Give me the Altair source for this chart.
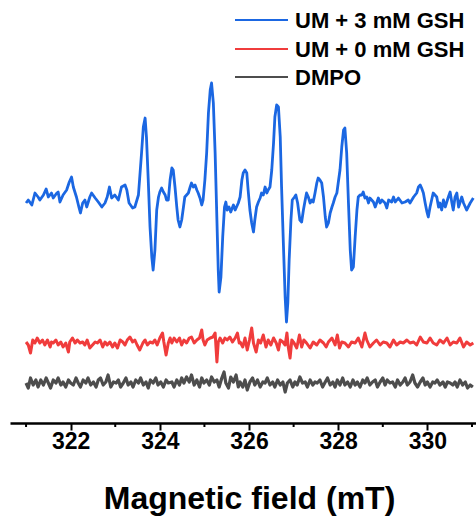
import altair as alt
import pandas as pd

# ---- EPR spectra (field in mT, signal in arbitrary units) ----
blue_field = [
    321.00, 321.05, 321.13, 321.20, 321.27, 321.31, 321.39, 321.45, 321.50, 321.57,
    321.61, 321.69, 321.72, 321.76, 321.83, 321.91, 321.97, 322.02, 322.06, 322.13,
    322.19, 322.22, 322.27, 322.32, 322.36, 322.43, 322.47, 322.55, 322.62, 322.70,
    322.77, 322.82, 322.87, 322.92, 322.99, 323.07, 323.14, 323.22, 323.26, 323.31,
    323.39, 323.44, 323.52, 323.59, 323.63, 323.67, 323.70, 323.74, 323.78, 323.82,
    323.85, 323.89, 323.93, 323.97, 324.00, 324.04, 324.08, 324.12, 324.15, 324.19,
    324.23, 324.27, 324.30, 324.34, 324.38, 324.41, 324.45, 324.49, 324.53, 324.56,
    324.60, 324.64, 324.68, 324.71, 324.75, 324.79, 324.83, 324.86, 324.90, 324.94,
    324.97, 325.01, 325.05, 325.09, 325.13, 325.16, 325.20, 325.24, 325.28, 325.31,
    325.33, 325.37, 325.41, 325.45, 325.48, 325.51, 325.55, 325.59, 325.65, 325.69,
    325.76, 325.80, 325.84, 325.87, 325.91, 325.95, 325.98, 326.02, 326.06, 326.10,
    326.13, 326.17, 326.21, 326.25, 326.28, 326.32, 326.36, 326.40, 326.43, 326.47,
    326.51, 326.55, 326.58, 326.62, 326.66, 326.70, 326.73, 326.77, 326.81, 326.84,
    326.87, 326.90, 326.94, 326.97, 327.02, 327.05, 327.09, 327.14, 327.18, 327.22,
    327.26, 327.29, 327.33, 327.37, 327.41, 327.44, 327.48, 327.52, 327.55, 327.59,
    327.63, 327.67, 327.71, 327.74, 327.78, 327.82, 327.86, 327.89, 327.93, 327.97,
    328.00, 328.04, 328.08, 328.12, 328.15, 328.19, 328.23, 328.27, 328.30, 328.34,
    328.38, 328.42, 328.45, 328.49, 328.53, 328.56, 328.60, 328.64, 328.68, 328.71,
    328.79, 328.83, 328.90, 328.94, 328.98, 329.05, 329.09, 329.13, 329.20, 329.24,
    329.28, 329.35, 329.43, 329.50, 329.57, 329.61, 329.69, 329.76, 329.80, 329.84,
    329.87, 329.91, 329.95, 329.99, 330.02, 330.06, 330.13, 330.21, 330.25, 330.28,
    330.32, 330.36, 330.40, 330.47, 330.51, 330.55, 330.58, 330.62, 330.66, 330.70,
    330.77, 330.81, 330.88, 330.96, 331.03,
]
blue_signal = [
    -3, 0, -5, 7, 3, 0, 5, 11, 3, 7,
    2, 7, 8, -2, 5, 10, 18, 23, 13, 3,
    -8, -13, -3, 0, -7, 3, 7, 2, -2, -7,
    -3, 3, 13, 2, 5, 0, 13, 15, 10, -3,
    -8, -7, 5, 47, 73, 82, 63, 20, -27, -57,
    -70, -50, -10, 3, 8, 12, 8, 5, 0, 0,
    20, 32, 30, 13, -7, -20, -27, -20, -7, 3,
    5, 7, 13, 17, 13, 15, 10, 7, 2, -5,
    0, 20, 47, 87, 110, 117, 97, 47, -20, -70,
    -92, -77, -37, -7, -2, -10, -7, -12, -5, -10,
    -3, 3, 20, 27, 30, 27, 10, -10, -23, -32,
    -20, -7, -2, 2, 7, 5, 13, 7, 10, 13,
    30, 57, 83, 95, 93, 63, 13, -43, -97, -122,
    -103, -60, -20, 0, 3, 5, -3, -20, -22, -10,
    0, 7, 3, -3, 0, -2, 7, 17, 22, 20,
    17, 3, -17, -27, -23, -13, -7, -3, 3, 7,
    17, 30, 53, 70, 72, 47, -3, -50, -70, -67,
    -37, -10, 3, 5, 5, 8, 2, 3, -3, 2,
    -2, -7, 2, -3, 0, -3, -8, 0, -2, 3,
    -2, 2, -3, -2, 0, -3, 3, 7, 13, 15,
    12, 7, -3, -12, -17, -7, 7, 3, -7, -3,
    -10, 0, -7, 3, 8, -3, -10, 3, 7, -7,
    3, -3, -10, -3, 2,
]

red_field = [
    321.00, 321.05, 321.10, 321.15, 321.20, 321.25, 321.31, 321.37, 321.42, 321.48,
    321.54, 321.57, 321.61, 321.67, 321.72, 321.78, 321.83, 321.89, 321.95, 321.98,
    322.04, 322.10, 322.15, 322.21, 322.27, 322.32, 322.37, 322.43, 322.49, 322.55,
    322.60, 322.66, 322.72, 322.77, 322.82, 322.88, 322.94, 322.99, 323.05, 323.11,
    323.17, 323.22, 323.27, 323.33, 323.39, 323.44, 323.49, 323.55, 323.62, 323.67,
    323.72, 323.78, 323.84, 323.89, 323.94, 324.00, 324.06, 324.09, 324.14, 324.19,
    324.23,
    324.27, 324.32, 324.38, 324.44, 324.49, 324.54, 324.60, 324.66, 324.71, 324.77,
    324.83, 324.89, 324.94, 324.97, 325.01, 325.06, 325.13, 325.19, 325.24, 325.28,
    325.31, 325.35, 325.41, 325.46, 325.51, 325.57, 325.63, 325.69, 325.74, 325.78,
    325.80, 325.86, 325.91, 325.96, 326.01, 326.06, 326.10, 326.16, 326.21, 326.26,
    326.32, 326.38, 326.43, 326.49, 326.55, 326.61, 326.66, 326.70, 326.76, 326.81,
    326.85, 326.88, 326.92, 326.96, 327.01, 327.07, 327.13, 327.18, 327.23, 327.29,
    327.37, 327.44, 327.52, 327.59, 327.67, 327.73, 327.78, 327.86, 327.93, 327.98,
    328.03, 328.08, 328.15, 328.23, 328.30, 328.38, 328.45, 328.53, 328.60, 328.64,
    328.71, 328.79, 328.86, 328.94, 329.01, 329.09, 329.16, 329.24, 329.31, 329.39,
    329.46, 329.54, 329.61, 329.69, 329.76, 329.84, 329.91, 329.99, 330.06, 330.13,
    330.21, 330.28, 330.36, 330.44, 330.51, 330.58, 330.66, 330.73, 330.81, 330.88,
    330.96, 331.03,
]
red_signal = [
    1, -2, -10, 3, 0, 5, 0, 3, -2, 3,
    -4, 1, 0, 3, -2, 1, -4, 0, -9, 1,
    5, 0, 3, 0, 1, -2, 3, -5, -2, 1,
    0, 3, -4, 1, -2, 1, -4, 0, -5, 3,
    1, -2, 3, 6, 1, 3, -2, -7, 0, 3,
    -2, 1, 0, 3, -2, 5, 10, 1, -12, 0,
    5,
    0, 5, 1, 5, -2, 3, 0, 5, 6, 0,
    3, 5, 13, 3, -2, 3, 5, 6, 10, -19,
    1, 5, 0, 5, 3, 6, 1, 5, 10, 0,
    1, -4, 5, -7, 3, 15, 0, -9, 3, 0,
    8, -4, 3, -2, 5, 0, -7, 3, 1, -2,
    10, -4, -15, 3, 0, -5, 8, -4, 3, 0,
    -5, 1, -2, 3, 0, -4, 1, 5, -2, 8,
    -5, 1, 0, -4, 1, 0, 5, -4, 10, 3,
    -4, 0, 3, -2, 1, 0, -4, 3, -2, 1,
    0, 3, 0, 1, -2, 6, 1, 0, 5, 0,
    -2, 3, 0, 5, -2, 1, 0, 5, -4, 1,
    -2, 0,
]

gray_field = [
    321.00, 321.05, 321.10, 321.16, 321.22, 321.27, 321.33, 321.39, 321.45, 321.50,
    321.55, 321.61, 321.67, 321.72, 321.78, 321.83, 321.89, 321.95, 322.00, 322.06,
    322.12, 322.17, 322.22, 322.28, 322.34, 322.39, 322.45, 322.51, 322.57, 322.62,
    322.67, 322.73, 322.79, 322.84, 322.90, 322.96, 323.02, 323.07, 323.12, 323.18,
    323.24, 323.29, 323.35, 323.40, 323.46, 323.52, 323.57, 323.63, 323.69, 323.74,
    323.79, 323.85, 323.91, 323.96, 324.02, 324.08, 324.14, 324.19,
    324.27, 324.32, 324.38, 324.44, 324.49, 324.54, 324.60, 324.66, 324.71, 324.77,
    324.83, 324.89, 324.94, 324.99, 325.05, 325.11, 325.16, 325.22, 325.28, 325.33,
    325.39, 325.44, 325.48, 325.54, 325.59, 325.65, 325.71, 325.76,
    325.80, 325.86, 325.91, 325.96, 326.02, 326.08, 326.13, 326.19, 326.25, 326.31,
    326.36, 326.41, 326.47, 326.53, 326.58, 326.64, 326.70, 326.76, 326.81, 326.86,
    326.92, 326.98, 327.03, 327.08, 327.14, 327.20, 327.26, 327.31, 327.37, 327.43,
    327.48, 327.53, 327.59, 327.65, 327.71, 327.76, 327.82, 327.88, 327.93, 327.98,
    328.04, 328.10, 328.15, 328.21, 328.27, 328.33, 328.38, 328.43, 328.49, 328.55,
    328.60, 328.65, 328.71, 328.77, 328.83, 328.88, 328.94, 329.00, 329.05, 329.10,
    329.16, 329.22, 329.28, 329.33, 329.39, 329.45, 329.50, 329.55, 329.61, 329.67,
    329.72, 329.78, 329.84, 329.90, 329.95, 330.00, 330.06, 330.12, 330.17, 330.22,
    330.28, 330.35, 330.40, 330.45, 330.51, 330.57, 330.62, 330.67, 330.73, 330.79,
    330.85, 330.90, 330.96, 331.02,
]
gray_signal = [
    0, -5, 5, -2, 3, -4, 3, -2, 5, 0,
    -5, 3, 0, 5, -2, 1, -4, 3, 0, -2,
    5, 0, -4, 3, 0, 5, -2, 1, -4, 3,
    5, -2, 1, 8, -4, 1, 0, 3, -4, 0,
    5, -2, 1, -4, 3, 0, 5, -2, 1, -5,
    3, 0, 5, -2, 1, -4, 3, 0,
    1, -4, 3, -2, 5, 0, 6, 1, 8, -2,
    3, -4, 5, 0, 3, -2, 6, 1, 3, -4,
    5, 11, 0, -5, 6, 1, 8, -4,
    1, -4, 3, -7, 1, 5, -2, 3, -4, 1,
    0, 5, -2, 1, -4, 3, -2, 1, -9, 0,
    3, -4, 1, -2, 6, 0, 1, -4, 3, -2,
    1, 0, 3, -4, 1, 5, -2, 1, -4, 3,
    -2, 5, -2, 1, -4, 3, -2, 1, -4, 3,
    0, 5, -2, 1, 3, -4, 1, 5, -2, 3,
    0, 1, -4, 3, -2, 1, 5, -2, 1, 8,
    0, -4, 1, 5, -2, 1, -4, 1, 0, 3,
    -2, 1, -4, 1, 0, -2, 1, -4, 3, -2,
    1, -5, -2, -4,
]

series_names = ["UM + 3 mM GSH", "UM + 0 mM GSH", "DMPO"]
series_colors = ["#1b67e2", "#f03c3c", "#4d4d4d"]
series_offsets = [0, -143, -183]          # vertical stacking of the traces
series_widths = [2.8, 3.2, 3.2]

major_ticks = [322, 324, 326, 328, 330]
minor_ticks = [321, 323, 325, 327, 329, 331]

assert len(blue_field) == len(blue_signal)
assert len(red_field) == len(red_signal)
assert len(gray_field) == len(gray_signal)

rows = []
for name, fields, signal, off in zip(
    series_names,
    [blue_field, red_field, gray_field],
    [blue_signal, red_signal, gray_signal],
    series_offsets,
):
    for f, s in zip(fields, signal):
        rows.append({"field": f, "signal": s + off, "series": name})
spectra = pd.DataFrame(rows)

W, H = 466, 423
x_scale = alt.Scale(domain=[320.64, 331.09], nice=False, zero=False)
y_scale = alt.Scale(domain=[-223, 200], nice=False, zero=False)

x_axis = alt.Axis(
    values=major_ticks, format="d", grid=False,
    title="Magnetic field (mT)",
    domainColor="black", domainWidth=2.5,
    tickColor="black", tickWidth=2, tickSize=7,
    labelFont="Liberation Sans", labelFontWeight="bold", labelFontSize=23,
    labelColor="black", labelBaseline="alphabetic", labelPadding=18,
    labelFlush=False, labelOverlap=False,
    titleFont="Liberation Sans", titleFontWeight="bold", titleFontSize=32,
    titleColor="black", titleBaseline="alphabetic", titleAlign="center",
    titleX=239, titleY=85,
)

lines = alt.Chart(spectra).mark_line(clip=True, strokeJoin="round").encode(
    x=alt.X("field:Q", scale=x_scale, axis=x_axis),
    y=alt.Y("signal:Q", scale=y_scale, axis=None),
    color=alt.Color("series:N", scale=alt.Scale(domain=series_names, range=series_colors), legend=None),
    strokeWidth=alt.StrokeWidth("series:N", scale=alt.Scale(domain=series_names, range=series_widths), legend=None),
    detail="series:N",
)

# short minor ticks at the odd field values
minor = alt.Chart(pd.DataFrame({"field": minor_ticks})).mark_rule(color="black", strokeWidth=2).encode(
    x=alt.X("field:Q", scale=x_scale, axis=x_axis),
    y=alt.value(H),
    y2=alt.value(H + 4),
)

# hand-placed legend in the top-right corner
legend_layers = []
line_y = [20, 49, 77]
text_y = [27.5, 56.5, 85]
for name, color, ly, ty in zip(series_names, series_colors, line_y, text_y):
    row = pd.DataFrame({"label": [name]})
    legend_layers.append(
        alt.Chart(row).mark_rule(color=color, strokeWidth=2.2).encode(
            x=alt.value(225), x2=alt.value(278), y=alt.value(ly)
        )
    )
    legend_layers.append(
        alt.Chart(row).mark_text(
            align="left", baseline="alphabetic", font="Liberation Sans",
            fontWeight="bold", fontSize=22, color="black"
        ).encode(x=alt.value(285), y=alt.value(ty), text="label:N")
    )

chart = alt.layer(lines, minor, *legend_layers).properties(
    width=W, height=H,
    autosize=alt.AutoSizeParams(type="none"),
    padding={"left": 10, "top": 0, "right": 0, "bottom": 94},
    background="white",
).configure_view(stroke=None)

chart.save("out.html", embed_options={"renderer": "svg", "actions": False})
